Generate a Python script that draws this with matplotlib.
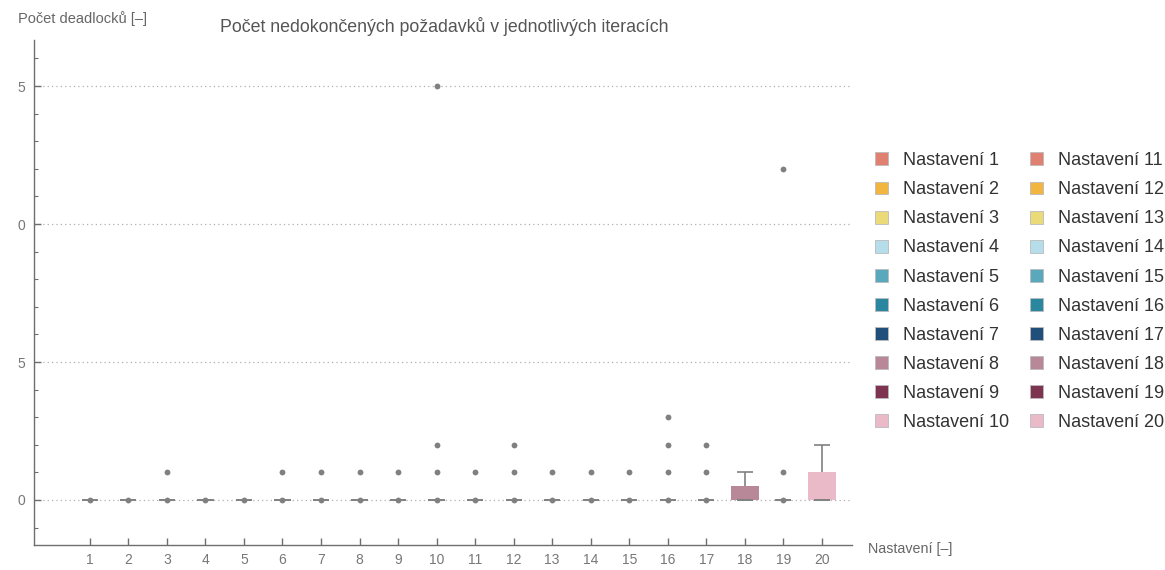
import matplotlib
matplotlib.use("Agg")
import matplotlib.pyplot as plt
from matplotlib.patches import Patch

plt.rcParams["font.family"] = ["Liberation Sans", "DejaVu Sans"]

# Box-whisker summary per setting (Nastavení 1..20)
settings = list(range(1, 21))
medians = [0] * 20
q1 = [0] * 20
q3 = [0, 0, 0, 0, 0, 0, 0, 0, 0, 0, 0, 0, 0, 0, 0, 0, 0, 0.5, 0, 1]
whisker_hi = [0, 0, 0, 0, 0, 0, 0, 0, 0, 0, 0, 0, 0, 0, 0, 0, 0, 1, 0, 2]
outliers = [
    [], [], [1], [], [], [1], [1], [1], [1], [1, 2, 15],
    [1], [1, 2], [1], [1], [1], [1, 2, 3], [1, 2], [], [1, 12], [],
]

palette = ["#e08070", "#f2b540", "#ebdb78", "#b6deea", "#5aa8bc",
           "#2b87a0", "#1f4f7a", "#b88898", "#7e3350", "#ebbac8"]
box_colors = [palette[(s - 1) % 10] for s in settings]
legend_labels = [f"Nastavení {s}" for s in settings]

yticks = [0, 5, 10, 15]
ytick_labels = ["0", "5", "0", "5"]

title = "Počet nedokončených požadavků v jednotlivých iteracích"
ylabel = "Počet deadlocků [–]"
xlabel = "Nastavení [–]"

gray = "#808080"
axis_gray = "#6e6e6e"

fig = plt.figure(figsize=(11.65, 5.70), dpi=100)
ax = fig.add_axes([0.0292, 0.0439, 0.7020, 0.8860])
ax.set_xlim(-0.45, 20.78)
ax.set_ylim(-1.63, 16.67)

# grid lines
for y in yticks:
    ax.axhline(y, color="#b0b0b0", lw=0.9, ls=(0, (1, 2.5)), zorder=0)

box_w = 0.74
line_w = 0.42
for i, s in enumerate(settings):
    lo, hi = q1[i], q3[i]
    if hi > lo:
        ax.bar(s, hi - lo, bottom=lo, width=box_w, color=box_colors[i],
               edgecolor="none", zorder=2)
        ax.hlines(medians[i], s - line_w / 2, s + line_w / 2, color=gray,
                  lw=1.4, zorder=3)
    else:
        ax.hlines(medians[i], s - line_w / 2, s + line_w / 2, color=gray,
                  lw=1.4, zorder=3)
        ax.plot([s], [medians[i]], "o", color=gray, ms=4.2, mec="none",
                zorder=4)
    if whisker_hi[i] > hi:
        ax.vlines(s, hi, whisker_hi[i], color=gray, lw=1.2, zorder=3)
        ax.hlines(whisker_hi[i], s - line_w / 2, s + line_w / 2, color=gray,
                  lw=1.2, zorder=3)
    if outliers[i]:
        ax.plot([s] * len(outliers[i]), outliers[i], "o", color=gray,
                ms=4.2, mec="none", zorder=4)

for side in ("top", "right"):
    ax.spines[side].set_visible(False)
for side in ("left", "bottom"):
    ax.spines[side].set_color(axis_gray)
    ax.spines[side].set_linewidth(1.0)

ax.set_xticks(settings)
ax.set_xticklabels([str(s) for s in settings])
ax.set_yticks(yticks)
ax.set_yticklabels(ytick_labels)
ax.set_yticks(range(-1, 17), minor=True)
ax.tick_params(axis="both", which="major", direction="in", length=5,
               width=1.0, color=axis_gray, labelcolor="#777777",
               labelsize=10, pad=6)
ax.tick_params(axis="y", which="minor", direction="in", length=3,
               width=0.8, color=axis_gray)
ax.tick_params(axis="x", which="minor", length=0)

fig.text(0.0155, 0.968, ylabel, fontsize=10.5, color="#666666",
         ha="left", va="center")
fig.text(0.381, 0.953, title, fontsize=12.8, color="#555555",
         ha="center", va="center")
fig.text(0.745, 0.037, xlabel, fontsize=10.3, color="#666666",
         ha="left", va="center")

handles = [Patch(facecolor=c, edgecolor="#bbbbbb", lw=0.6) for c in box_colors]
fig.legend(handles, legend_labels, ncol=2, frameon=False,
           loc="upper left", bbox_to_anchor=(0.751, 0.733),
           borderaxespad=0, borderpad=0,
           fontsize=13, handlelength=0.72, handleheight=0.72,
           handletextpad=0.83, labelspacing=0.67, columnspacing=1.17,
           labelcolor="#333333")

fig.savefig("out.png", dpi=100, facecolor="white")
